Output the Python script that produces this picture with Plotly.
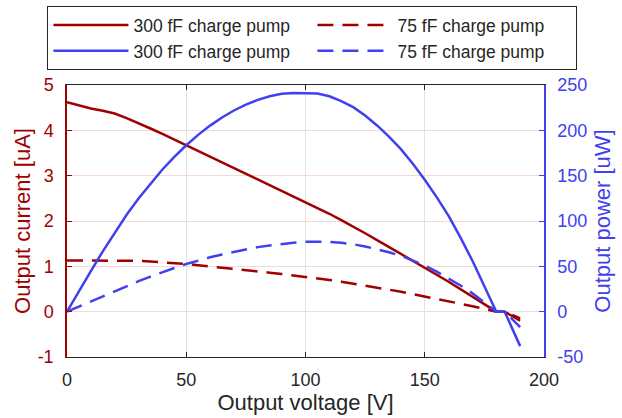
import plotly.graph_objects as go

# Data
voltage = [0, 5, 10, 15, 20, 25, 30, 35, 40, 45, 50, 55, 60, 65, 70, 75, 80, 85,
           90, 95, 100, 105, 110, 115, 120, 125, 130, 135, 140, 145, 150, 155,
           160, 165, 170, 175, 180, 183.5, 190]
current_300 = [4.62, 4.55, 4.48, 4.43, 4.37, 4.27, 4.16, 4.04, 3.92, 3.795, 3.67,
               3.545, 3.42, 3.295, 3.17, 3.045, 2.92, 2.795, 2.67, 2.54, 2.41,
               2.29, 2.16, 2.02, 1.88, 1.73, 1.58, 1.43, 1.28, 1.125, 0.97, 0.815,
               0.66, 0.495, 0.33, 0.165, 0.0, 0.0, -0.20]
current_75 = [1.13, 1.13, 1.13, 1.13, 1.13, 1.13, 1.12, 1.105, 1.09, 1.07, 1.05,
              1.025, 1.00, 0.97, 0.94, 0.915, 0.89, 0.86, 0.83, 0.80, 0.77, 0.735,
              0.70, 0.66, 0.62, 0.575, 0.53, 0.485, 0.44, 0.39, 0.34, 0.285, 0.23,
              0.175, 0.12, 0.06, 0.0, 0.0, -0.15]
power_300 = [0, 22.8, 44.8, 66.5, 87.4, 106.8, 124.8, 141.4, 156.8, 170.8, 183.5,
             195.0, 205.2, 214.2, 221.9, 228.4, 233.6, 237.6, 240.3, 241.3, 241.0,
             240.5, 237.6, 232.3, 225.6, 216.3, 205.4, 193.1, 179.2, 163.1, 145.5,
             126.3, 105.6, 81.7, 56.1, 28.9, 0, 0, -38]
power_75 = [0, 5.7, 11.3, 17.0, 22.6, 28.3, 33.6, 38.7, 43.6, 48.2, 52.5, 56.4,
            60.0, 63.1, 65.8, 68.6, 71.2, 73.1, 74.7, 76.0, 77.0, 77.2, 77.0, 75.9,
            74.4, 71.9, 68.9, 65.5, 61.6, 56.6, 51.0, 44.2, 36.8, 28.9, 20.4, 10.5,
            0, 0, -17]

names = ["300 fF charge pump", "75 fF charge pump"]
x_ticks = [0, 50, 100, 150, 200]
y_ticks = [-1, 0, 1, 2, 3, 4, 5]
y_ticktext = ["-1", "0", "1", "2", "3", "4", "5"]
y2_ticks = [-50, 0, 50, 100, 150, 200, 250]
y2_ticktext = ["-50", "0", "50", "100", "150", "200", "250"]

RED = "#a00000"
BLUE = "#4040ee"
DARK = "#262626"
FONT = "Liberation Sans, Arial, sans-serif"
DASH = "16px,9px"

fig = go.Figure()
fig.add_trace(go.Scatter(x=voltage, y=current_300, name=names[0], mode="lines",
                         line=dict(color=RED, width=2.5), yaxis="y"))
fig.add_trace(go.Scatter(x=voltage, y=current_75, name=names[1], mode="lines",
                         line=dict(color=RED, width=2.5, dash=DASH), yaxis="y"))
fig.add_trace(go.Scatter(x=voltage, y=power_300, name=names[0], mode="lines",
                         line=dict(color=BLUE, width=2.5), yaxis="y2"))
fig.add_trace(go.Scatter(x=voltage, y=power_75, name=names[1], mode="lines",
                         line=dict(color=BLUE, width=2.5, dash=DASH), yaxis="y2"))

fig.update_layout(
    width=622, height=418,
    margin=dict(l=67, r=78, t=85, b=61, autoexpand=False),
    paper_bgcolor="white", plot_bgcolor="white",
    font=dict(family=FONT, size=18, color=DARK),
    showlegend=True,
    legend=dict(
        orientation="h", x=-0.041, xanchor="left", y=1.29, yanchor="top",
        bordercolor=DARK, borderwidth=1, bgcolor="white",
        font=dict(family=FONT, size=17.5, color=DARK),
        itemwidth=75, traceorder="normal",
        entrywidth=174, entrywidthmode="pixels",
    ),
    xaxis=dict(
        range=[0, 200], tickvals=x_ticks, ticks="inside", ticklen=5,
        tickcolor=DARK, showline=True, linecolor=DARK, linewidth=1,
        mirror="ticks", showgrid=True, gridcolor="#e2e2e2", zeroline=False,
        tickfont=dict(size=18, color=DARK), ticklabelstandoff=6,
        title=dict(text="Output voltage [V]", font=dict(size=22, color=DARK),
                   standoff=4),
        fixedrange=True,
    ),
    yaxis=dict(
        range=[-1, 5], tickvals=y_ticks, ticktext=y_ticktext, ticks="inside",
        ticklen=5, tickcolor=RED, showline=True, linecolor=RED, linewidth=1.5,
        showgrid=True, gridcolor="#f4d9d9", zeroline=False,
        tickfont=dict(size=18, color=RED), ticklabelstandoff=8,
        title=dict(text="Output current [uA]", font=dict(size=22, color=RED),
                   standoff=1),
    ),
    yaxis2=dict(
        range=[-50, 250], tickvals=y2_ticks, ticktext=y2_ticktext,
        ticks="inside", ticklen=5, tickcolor=BLUE, showline=True,
        linecolor=BLUE, linewidth=1.5,
        overlaying="y", side="right", showgrid=False, zeroline=False,
        tickfont=dict(size=18, color=BLUE), ticklabelstandoff=8,
        title=dict(text="Output power [uW]", font=dict(size=22, color=BLUE),
                   standoff=8),
    ),
)

fig.write_html("out.html")
